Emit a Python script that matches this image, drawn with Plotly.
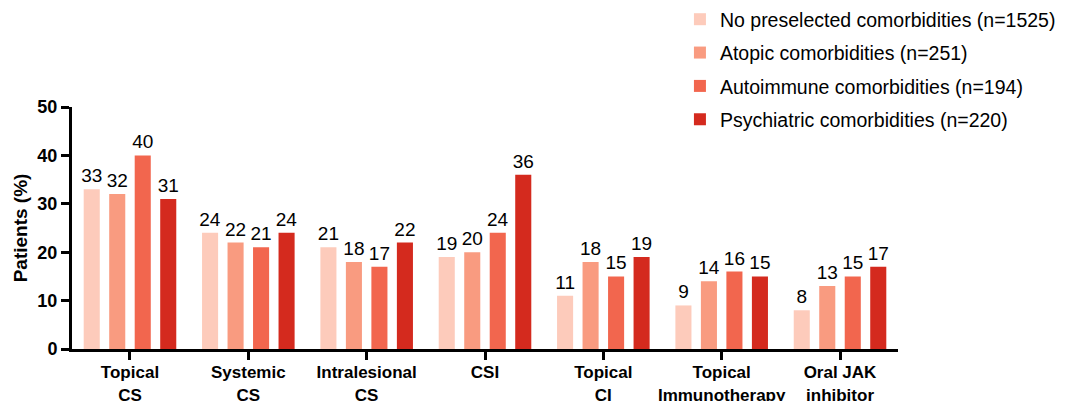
import plotly.graph_objects as go

categories = ["Topical<br>CS", "Systemic<br>CS", "Intralesional<br>CS", "CSI",
              "Topical<br>CI", "Topical<br>Immunotherapy", "Oral JAK<br>inhibitor"]
series_names = ["No preselected comorbidities (n=1525)",
                "Atopic comorbidities (n=251)",
                "Autoimmune comorbidities (n=194)",
                "Psychiatric comorbidities (n=220)"]
no_preselected = [33, 24, 21, 19, 11, 9, 8]
atopic = [32, 22, 18, 20, 18, 14, 13]
autoimmune = [40, 21, 17, 24, 15, 16, 15]
psychiatric = [31, 24, 22, 36, 19, 15, 17]
colors = ["#FDCBBB", "#F99B80", "#F2664E", "#D42A1E"]

FONT = "Arial, Liberation Sans, sans-serif"
fig = go.Figure()
for i, (name, vals) in enumerate(zip(series_names, [no_preselected, atopic, autoimmune, psychiatric])):
    fig.add_trace(go.Bar(
        x=categories, y=vals, name=name, marker_color=colors[i], marker_line_width=0,
        text=[str(v) for v in vals], textposition="outside", cliponaxis=False,
        constraintext="none",
        textfont=dict(size=19, color="black", family=FONT),
        legendgroup=f"g{i}",
    ))

fig.update_layout(
    width=1067, height=401,
    margin=dict(l=72, r=169, t=107, b=52, autoexpand=False),
    plot_bgcolor="white", paper_bgcolor="white",
    barmode="group", bargap=0.138, bargroupgap=0.37,
    font=dict(family=FONT, color="black"),
    showlegend=True,
    legend=dict(x=0.736, y=1.442, xanchor="left", yanchor="top",
                font=dict(size=19.5, family=FONT, color="black"),
                tracegroupgap=5, traceorder="grouped", itemwidth=30,
                bgcolor="rgba(0,0,0,0)"),
)
fig.update_yaxes(range=[0, 50], dtick=10, showline=True, linecolor="black", linewidth=3,
                 ticks="outside", ticklen=8, tickwidth=3, tickcolor="black",
                 showgrid=False, zeroline=False,
                 tickfont=dict(size=18, family=FONT, weight="bold"),
                 title=dict(text="Patients (%)", font=dict(size=19, family=FONT, weight="bold"), standoff=5))
fig.update_xaxes(range=[-0.49, 6.49], showline=True, linecolor="black", linewidth=3,
                 ticks="outside", ticklen=8, tickwidth=3, tickcolor="black",
                 ticklabelstandoff=-2,
                 tickfont=dict(size=17, family=FONT, weight="bold"))

fig.write_html("out.html", config={"displayModeBar": False},
               post_script="document.body.style.margin='0';")
